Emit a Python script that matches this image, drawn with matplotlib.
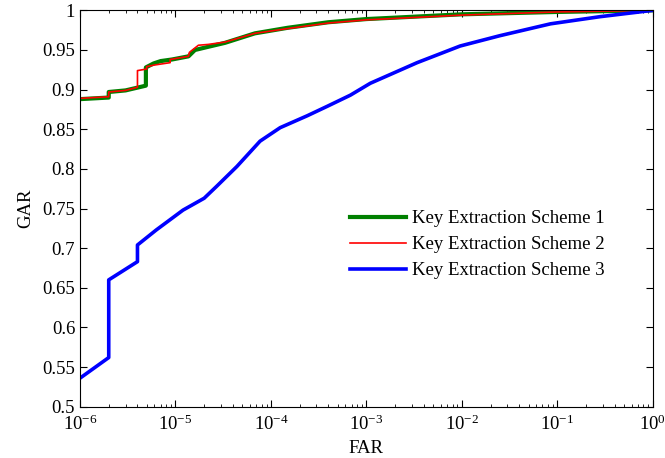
import matplotlib
matplotlib.use("Agg")
import matplotlib.pyplot as plt
from matplotlib.ticker import LogLocator, FixedLocator, FuncFormatter

plt.rcParams["font.family"] = "Liberation Serif"
plt.rcParams["mathtext.fontset"] = "stix"

# data
far1 = [1e-6, 2e-6, 2e-6, 3e-6, 4.9e-6, 4.9e-6, 5.9e-6, 7e-6, 9.2e-6, 1.37e-5, 1.6e-5,
        2.2e-5, 3.3e-5, 6.8e-5, 1.5e-4, 4e-4, 1e-3, 1e-2, 1e-1, 1]
gar1 = [0.888, 0.890, 0.897, 0.899, 0.905, 0.928, 0.933, 0.936, 0.938, 0.942, 0.950,
        0.954, 0.959, 0.971, 0.978, 0.985, 0.989, 0.995, 0.998, 1.0]

far2 = [1e-6, 2e-6, 2e-6, 3e-6, 4e-6, 4e-6, 5e-6, 5e-6, 6e-6, 8.8e-6, 8.8e-6, 1.37e-5,
        1.4e-5, 1.74e-5, 2.2e-5, 3.3e-5, 6.8e-5, 1.5e-4, 4e-4, 1e-3, 1e-2, 1e-1, 1]
gar2 = [0.889, 0.891, 0.897, 0.899, 0.903, 0.924, 0.926, 0.929, 0.931, 0.934, 0.938, 0.942,
        0.947, 0.956, 0.957, 0.960, 0.971, 0.977, 0.984, 0.988, 0.994, 0.998, 1.0]

far3 = [1e-6, 2e-6, 2e-6, 4e-6, 4e-6, 6.3e-6, 1.2e-5, 2e-5, 2.7e-5, 4.4e-5, 7.7e-5,
        1.25e-4, 2.4e-4, 3.9e-4, 6.8e-4, 1.1e-3, 3.4e-3, 9.6e-3, 2.5e-2, 8.5e-2, 0.28, 1]
gar3 = [0.536, 0.562, 0.660, 0.683, 0.704, 0.723, 0.748, 0.763, 0.778, 0.803, 0.835,
        0.852, 0.867, 0.879, 0.893, 0.908, 0.934, 0.955, 0.968, 0.983, 0.992, 1.0]

labels = ["Key Extraction Scheme 1", "Key Extraction Scheme 2", "Key Extraction Scheme 3"]
y_ticks = [0.5, 0.55, 0.6, 0.65, 0.7, 0.75, 0.8, 0.85, 0.9, 0.95, 1.0]

fig = plt.figure(figsize=(6.65, 4.58), dpi=100)
ax = fig.add_axes([0.1203, 0.112, 0.8612, 0.8654])

ax.plot(far1, gar1, color=(0, 0.5, 0), lw=3, label=labels[0])
ax.plot(far2, gar2, color="red", lw=1.2, label=labels[1])
ax.plot(far3, gar3, color="blue", lw=2.6, label=labels[2])

ax.set_xscale("log")
ax.set_xlim(1e-6, 1)
ax.set_ylim(0.5, 1)
ax.xaxis.set_major_locator(LogLocator(base=10, numticks=10))
ax.xaxis.set_minor_locator(LogLocator(base=10, subs=range(2, 10), numticks=20))
ax.yaxis.set_major_locator(FixedLocator(y_ticks))
ax.yaxis.set_major_formatter(FuncFormatter(lambda v, p: f"{v:g}"))

ax.tick_params(which="both", direction="in", top=True, right=True, labelsize=13.5)
ax.tick_params(which="major", length=5)
ax.tick_params(which="minor", length=2.5)
ax.tick_params(axis="x", pad=6)
for s in ax.spines.values():
    s.set_linewidth(0.8)

ax.set_xlabel("FAR", fontsize=13.5, labelpad=4)
ax.set_ylabel("GAR", fontsize=13.5, labelpad=6)

ax.legend(loc="upper left", bbox_to_anchor=(0.458, 0.515), frameon=False, fontsize=13.5,
          handlelength=3.0, handletextpad=0.32, labelspacing=0.48, borderaxespad=0)

fig.savefig("out.png", dpi=100)
